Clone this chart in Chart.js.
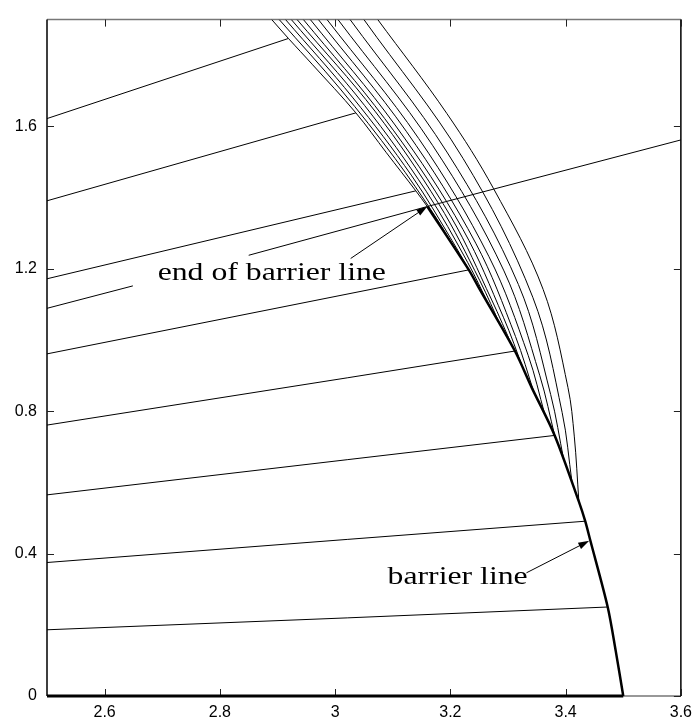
<!DOCTYPE html>
<html>
<head>
<meta charset="utf-8">
<script src="https://cdn.jsdelivr.net/npm/chart.js@4.4.1/dist/chart.umd.min.js"></script>
<style>
  html, body { margin: 0; padding: 0; background: #fff; }
  #wrap { width: 699px; height: 724px; }
</style>
</head>
<body>
<div id="wrap"><canvas id="myChart"></canvas></div>
<script>
// axis ticks
const xTicks = [2.6, 2.8, 3, 3.2, 3.4, 3.6]
const yTicks = [0, 0.4, 0.8, 1.2, 1.6]

// barrier line (thick), from the x axis up to its end point
const barrierX = [3.5, 3.487, 3.473, 3.443, 3.434, 3.423, 3.381, 3.341, 3.312, 3.251, 3.232, 3.16]
const barrierY = [0, 0.126, 0.25, 0.436, 0.491, 0.546, 0.732, 0.867, 0.969, 1.142, 1.197, 1.375]

// thick base along y = 0
const baseX = [2.5, 3.5]
const baseY = [0, 0]

// fan of curves leaving the barrier line, leftmost first
const fanX = [
    [3.16, 3.14, 3.089, 3.036, 2.961, 2.919, 2.89],
    [3.210, 3.173, 3.104, 3.009, 2.903],
    [3.242, 3.203, 3.133, 3.031, 2.914],
    [3.267, 3.230, 3.158, 3.051, 2.924],
    [3.288, 3.251, 3.180, 3.070, 2.934],
    [3.309, 3.271, 3.201, 3.086, 2.945],
    [3.327, 3.292, 3.222, 3.104, 2.957],
    [3.345, 3.313, 3.244, 3.124, 2.971],
    [3.364, 3.335, 3.267, 3.145, 2.986],
    [3.382, 3.355, 3.293, 3.169, 3.005],
    [3.397, 3.374, 3.318, 3.194, 3.026],
    [3.411, 3.394, 3.343, 3.222, 3.050],
    [3.423, 3.415, 3.404, 3.361, 3.275, 3.194, 3.074]
]
const fanY = [
    [1.375, 1.419, 1.526, 1.638, 1.773, 1.847, 1.9],
    [1.251, 1.349, 1.510, 1.705, 1.9],
    [1.169, 1.279, 1.461, 1.680, 1.9],
    [1.098, 1.218, 1.418, 1.659, 1.9],
    [1.037, 1.167, 1.382, 1.641, 1.9],
    [0.977, 1.115, 1.346, 1.622, 1.9],
    [0.917, 1.064, 1.310, 1.604, 1.9],
    [0.853, 1.010, 1.272, 1.585, 1.9],
    [0.790, 0.957, 1.234, 1.566, 1.9],
    [0.725, 0.901, 1.194, 1.547, 1.9],
    [0.661, 0.847, 1.156, 1.528, 1.9],
    [0.601, 0.796, 1.120, 1.510, 1.9],
    [0.546, 0.730, 0.867, 1.142, 1.425, 1.636, 1.9]
]

// lines coming in from the left edge
const lineX = [
    [2.5, 3.022, 3.473],
    [2.5, 3.022, 3.434],
    [2.5, 3.022, 3.381],
    [2.5, 3.022, 3.312],
    [2.5, 3.232],
    [2.5, 3.14],
    [2.5, 2.649],
    [2.85, 3.16, 3.6],
    [2.5, 3.036],
    [2.5, 2.919]
]
const lineY = [
    [0.186, 0.2195, 0.25],
    [0.375, 0.44, 0.491],
    [0.565, 0.664, 0.732],
    [0.761, 0.894, 0.969],
    [0.961, 1.197],
    [1.172, 1.419],
    [1.089, 1.152],
    [1.238, 1.375, 1.562],
    [1.391, 1.638],
    [1.622, 1.847]
]

// annotations
const labelText = ['end of barrier line', 'barrier line']
const labelX = [2.692, 3.091]
const labelY = [1.169, 0.314]
const arrowFromX = [3.027, 3.332]
const arrowFromY = [1.229, 0.346]
const arrowToX = [3.16, 3.441]
const arrowToY = [1.375, 0.436]

function toPoints(xs, ys) {
    return xs.map((v, i) => ({ x: v, y: ys[i] }))
}

function lineSet(xs, ys, width, tension) {
    return {
        data: toPoints(xs, ys),
        showLine: true,
        borderColor: '#000',
        backgroundColor: '#000',
        borderWidth: width,
        pointRadius: 0,
        fill: false,
        tension: tension
    }
}

const dataSets = []
dataSets.push({ ...lineSet(baseX, baseY, 3, 0), clip: 4 })
dataSets.push({ ...lineSet(barrierX, barrierY, 2.5, 0.3), clip: 4 })
fanX.forEach((xs, i) => {
    dataSets.push(lineSet(xs, fanY[i], 1, 0.35))
})
lineX.forEach((xs, i) => {
    dataSets.push(lineSet(xs, lineY[i], 1, 0))
})

// frame and inward tick marks on all four sides, plus arrows and labels
const framePlugin = {
    id: 'frame',
    beforeDatasetsDraw(chart) {
        const { ctx, chartArea: a, scales: { x, y } } = chart
        ctx.save()
        ctx.lineWidth = 1.5
        ctx.strokeStyle = '#777'
        ctx.beginPath()
        ctx.moveTo(a.left, a.top); ctx.lineTo(a.right, a.top)
        ctx.moveTo(a.left, a.bottom); ctx.lineTo(a.right, a.bottom)
        ctx.stroke()
        ctx.strokeStyle = '#000'
        ctx.beginPath()
        ctx.moveTo(a.left, a.top); ctx.lineTo(a.left, a.bottom)
        ctx.moveTo(a.right, a.top); ctx.lineTo(a.right, a.bottom)
        ctx.stroke()
        ctx.lineWidth = 1
        ctx.strokeStyle = '#222'
        ctx.beginPath()
        for (const v of xTicks) {
            const px = Math.round(x.getPixelForValue(v)) + 0.5
            ctx.moveTo(px, a.bottom); ctx.lineTo(px, a.bottom - 7)
            ctx.moveTo(px, a.top); ctx.lineTo(px, a.top + 7)
        }
        for (const v of yTicks) {
            const py = Math.round(y.getPixelForValue(v)) + 0.5
            ctx.moveTo(a.left, py); ctx.lineTo(a.left + 7, py)
            ctx.moveTo(a.right, py); ctx.lineTo(a.right - 7, py)
        }
        ctx.stroke()
        ctx.restore()
    },
    afterDatasetsDraw(chart) {
        const { ctx, scales: { x, y } } = chart
        ctx.save()
        ctx.strokeStyle = '#000'
        ctx.fillStyle = '#000'
        ctx.lineWidth = 1
        for (let i = 0; i < arrowToX.length; i++) {
            const x0 = x.getPixelForValue(arrowFromX[i]), y0 = y.getPixelForValue(arrowFromY[i])
            const x1 = x.getPixelForValue(arrowToX[i]), y1 = y.getPixelForValue(arrowToY[i])
            const ang = Math.atan2(y1 - y0, x1 - x0)
            ctx.beginPath()
            ctx.moveTo(x0, y0)
            ctx.lineTo(x1 - 8 * Math.cos(ang), y1 - 8 * Math.sin(ang))
            ctx.stroke()
            ctx.beginPath()
            ctx.moveTo(x1, y1)
            ctx.lineTo(x1 - 11 * Math.cos(ang) + 3.5 * Math.sin(ang), y1 - 11 * Math.sin(ang) - 3.5 * Math.cos(ang))
            ctx.lineTo(x1 - 11 * Math.cos(ang) - 3.5 * Math.sin(ang), y1 - 11 * Math.sin(ang) + 3.5 * Math.cos(ang))
            ctx.closePath()
            ctx.fill()
        }
        ctx.font = '25px "Liberation Serif"'
        ctx.textBaseline = 'alphabetic'
        ctx.textAlign = 'left'
        for (let i = 0; i < labelText.length; i++) {
            ctx.save()
            ctx.translate(x.getPixelForValue(labelX[i]), y.getPixelForValue(labelY[i]))
            ctx.scale(1.27, 1)
            ctx.fillText(labelText[i], 0, 0)
            ctx.restore()
        }
        ctx.restore()
    }
}

const ctx = document.getElementById('myChart')
const barrierChart = new Chart(ctx, {
    type: 'scatter',
    data: { datasets: dataSets },
    options: {
        responsive: true,
        maintainAspectRatio: false,
        animation: false,
        layout: { padding: { top: 4, right: 13, left: 0, bottom: 0 } },
        plugins: {
            legend: { display: false },
            tooltip: { enabled: false },
            colors: { enabled: false }
        },
        scales: {
            x: {
                type: 'linear',
                min: 2.5,
                max: 3.6,
                grid: { display: false, drawTicks: false },
                border: { display: false },
                afterBuildTicks: s => { s.ticks = xTicks.map(v => ({ value: v })) },
                afterFit: s => { s.height = 28 },
                ticks: {
                    color: '#000',
                    font: { family: 'Liberation Sans', size: 16 },
                    padding: 7,
                    maxRotation: 0,
                    autoSkip: false,
                    callback: v => String(v)
                }
            },
            y: {
                type: 'linear',
                min: 0,
                max: 1.9,
                grid: { display: false, drawTicks: false },
                border: { display: false },
                afterBuildTicks: s => { s.ticks = yTicks.map(v => ({ value: v })) },
                afterFit: s => { s.width = 47 },
                ticks: {
                    color: '#000',
                    font: { family: 'Liberation Sans', size: 16 },
                    padding: 10,
                    autoSkip: false,
                    callback: v => String(v)
                }
            }
        }
    },
    plugins: [framePlugin]
})
</script>
</body>
</html>
